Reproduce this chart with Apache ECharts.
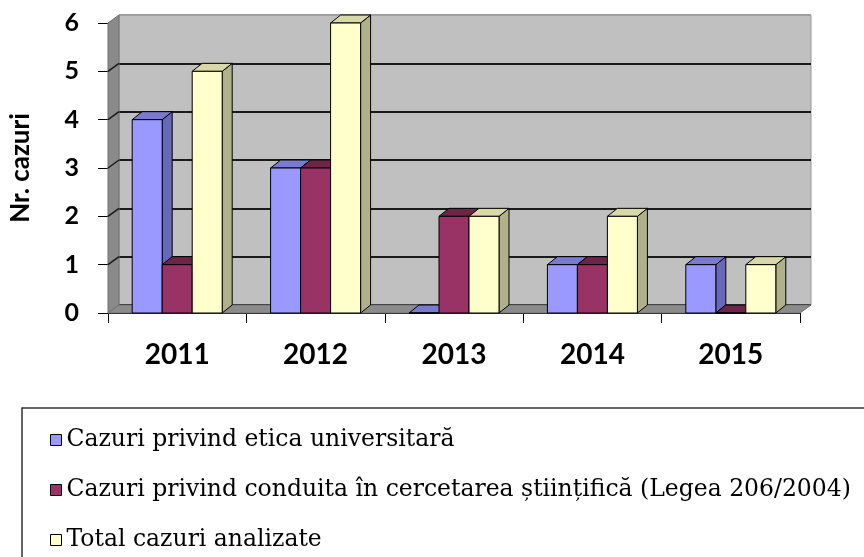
<!DOCTYPE html>
<html>
<head>
<meta charset="utf-8">
<script src="https://cdn.jsdelivr.net/npm/echarts@6/dist/echarts.min.js"></script>
<style>
  html, body { margin: 0; padding: 0; background: #fff; }
  #main { width: 864px; height: 557px; }
</style>
</head>
<body>
<div id="main"></div>
<script>
const categories = ['2011', '2012', '2013', '2014', '2015'];
const seriesNames = [
  'Cazuri privind etica universitară',
  'Cazuri privind conduita în cercetarea științifică (Legea 206/2004)',
  'Total cazuri analizate',
];
const eticaValues = [4, 3, 0, 1, 1];
const conduitaValues = [1, 3, 2, 1, 0];
const totalValues = [5, 6, 2, 2, 1];
const yTicks = [0, 1, 2, 3, 4, 5, 6];

// front plane of the plot and the 3d depth offsets
const FRONT = { left: 108, top: 23, right: 800, bottom: 313 };
const WALL_DX = 11;
const WALL_DY = -8;
const BAR_DX = 10;
const BAR_DY = -8;
const BAR_RATIO = 30 / 138.4;

const faces = [
  { front: '#9999FF', top: '#7A7AD1', side: '#6868B8' },
  { front: '#993366', top: '#6E2449', side: '#7C2A53' },
  { front: '#FFFFCC', top: '#D8D8A8', side: '#B0B08A' },
];

function renderBar(params, api) {
  const cat = api.value(0);
  const val = api.value(1);
  const base = api.coord([cat, 0]);
  const top = api.coord([cat, val]);
  const band = api.size([1, 0])[0];
  const bw = band * BAR_RATIO;
  const x0 = base[0] - 1.5 * bw + params.seriesIndex * bw;
  const x1 = x0 + bw;
  const ty = top[1];
  const by = base[1];
  const f = faces[params.seriesIndex];
  const stroke = { stroke: '#000', lineWidth: 1 };
  return {
    type: 'group',
    children: [
      {
        type: 'polygon',
        shape: { points: [[x1, ty], [x1 + BAR_DX, ty + BAR_DY], [x1 + BAR_DX, by + BAR_DY], [x1, by]] },
        style: Object.assign({ fill: f.side }, stroke),
      },
      {
        type: 'polygon',
        shape: { points: [[x0, ty], [x1, ty], [x1 + BAR_DX, ty + BAR_DY], [x0 + BAR_DX, ty + BAR_DY]] },
        style: Object.assign({ fill: f.top }, stroke),
      },
      {
        type: 'rect',
        shape: { x: x0, y: ty, width: bw, height: by - ty },
        style: Object.assign({ fill: f.front }, stroke),
      },
    ],
  };
}

function toPairs(values) {
  return values.map((v, i) => [i, v]);
}

const chart = echarts.init(document.getElementById('main'));

const axisFont = { fontFamily: 'Lato', fontWeight: 'bold', color: '#000' };

chart.setOption({
  animation: false,
  grid: [
    {
      left: FRONT.left,
      top: FRONT.top,
      width: FRONT.right - FRONT.left,
      height: FRONT.bottom - FRONT.top,
    },
    {
      left: FRONT.left + WALL_DX,
      top: FRONT.top + WALL_DY,
      width: FRONT.right - FRONT.left,
      height: FRONT.bottom - FRONT.top,
      show: true,
      backgroundColor: '#C0C0C0',
      borderColor: '#9a9a9a',
      borderWidth: 1,
    },
  ],
  xAxis: [
    {
      type: 'category',
      gridIndex: 0,
      data: categories,
      axisLine: { lineStyle: { color: '#000', width: 1 } },
      axisTick: { show: true, length: 10, lineStyle: { color: '#000' } },
      axisLabel: Object.assign({ fontSize: 28, margin: 28 }, axisFont),
    },
    {
      type: 'category',
      gridIndex: 1,
      data: categories,
      show: false,
    },
  ],
  yAxis: [
    {
      type: 'value',
      gridIndex: 0,
      min: 0,
      max: 6,
      interval: 1,
      name: 'Nr. cazuri',
      nameLocation: 'middle',
      nameGap: 74,
      nameTextStyle: { fontFamily: 'Lato', fontWeight: 'bold', fontSize: 26, color: '#000' },
      axisLine: { show: true, lineStyle: { color: '#000', width: 1 } },
      axisTick: { show: true, length: 10, lineStyle: { color: '#000' } },
      axisLabel: Object.assign({ fontSize: 25, margin: 29 }, axisFont),
      splitLine: { show: false },
    },
    {
      type: 'value',
      gridIndex: 1,
      min: 0,
      max: 6,
      interval: 1,
      axisLine: { show: false },
      axisTick: { show: false },
      axisLabel: { show: false },
      splitLine: {
        show: true,
        lineStyle: { color: ['#1a1a1a', '#1a1a1a', '#1a1a1a', '#1a1a1a', '#1a1a1a', '#1a1a1a', '#a0a0a0'], width: 2 },
      },
    },
  ],
  legend: {
    orient: 'vertical',
    left: 22,
    top: 408,
    height: 220,
    padding: [20, 60, 40, 28],
    itemWidth: 11,
    itemHeight: 11,
    itemGap: 26,
    icon: 'rect',
    selectedMode: false,
    borderColor: '#333',
    borderWidth: 1.5,
    itemStyle: { borderColor: '#000', borderWidth: 1 },
    textStyle: { fontFamily: 'DejaVu Serif', fontSize: 23.5, color: '#000' },
    data: seriesNames,
  },
  series: [
    { name: seriesNames[0], type: 'custom', renderItem: renderBar, itemStyle: { color: faces[0].front }, data: toPairs(eticaValues), z: 3 },
    { name: seriesNames[1], type: 'custom', renderItem: renderBar, itemStyle: { color: faces[1].front }, data: toPairs(conduitaValues), z: 3 },
    { name: seriesNames[2], type: 'custom', renderItem: renderBar, itemStyle: { color: faces[2].front }, data: toPairs(totalValues), z: 3 },
  ],
});

// side wall and floor, drawn from the front axis scale
const wallLines = yTicks.slice(1, -1).map((t) => {
  const y = chart.convertToPixel({ yAxisIndex: 0 }, t);
  return {
    type: 'line',
    z: 2,
    shape: { x1: FRONT.left, y1: y, x2: FRONT.left + WALL_DX, y2: y + WALL_DY },
    style: { stroke: '#1a1a1a', lineWidth: 1.5 },
  };
});
const yTop = chart.convertToPixel({ yAxisIndex: 0 }, yTicks[yTicks.length - 1]);
const yBase = chart.convertToPixel({ yAxisIndex: 0 }, yTicks[0]);

chart.setOption({
  graphic: [
    {
      type: 'polygon',
      z: 1,
      shape: { points: [[FRONT.left, yTop], [FRONT.left + WALL_DX, yTop + WALL_DY], [FRONT.left + WALL_DX, yBase + WALL_DY], [FRONT.left, yBase]] },
      style: { fill: '#8a8a8a', stroke: '#707070', lineWidth: 1 },
    },
    {
      type: 'polygon',
      z: 1,
      shape: { points: [[FRONT.left, yBase], [FRONT.right, yBase], [FRONT.right + WALL_DX, yBase + WALL_DY], [FRONT.left + WALL_DX, yBase + WALL_DY]] },
      style: { fill: '#8c8c8c', stroke: '#707070', lineWidth: 1 },
    },
  ].concat(wallLines),
});
</script>
</body>
</html>
